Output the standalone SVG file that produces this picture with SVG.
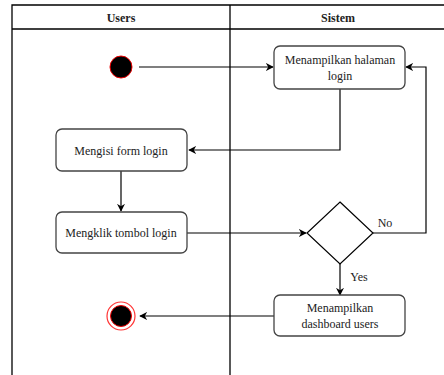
<svg xmlns="http://www.w3.org/2000/svg" width="444" height="375" viewBox="0 0 444 375">
<style>
text{font-family:'Liberation Serif','DejaVu Serif',serif;font-size:12px;fill:#222;text-anchor:middle}
.hdr{font-weight:bold}
.box{fill:#fff;stroke:#444;stroke-width:1.3}
.ln{fill:none;stroke:#000;stroke-width:1.3}
.edge{fill:none;stroke:#000;stroke-width:1.2}
</style>
<defs>
<marker id="ah" viewBox="0 0 10 10" refX="9" refY="5" markerWidth="8" markerHeight="8" markerUnits="userSpaceOnUse" orient="auto">
<path d="M0,0 L10,5 L0,10 L3,5 z" fill="#000"/>
</marker>
</defs>
<rect width="444" height="375" fill="#fff"/>
<g id="swimlanes">
<path class="ln" d="M12,375 V5 H444 M12,29 H444 M230,5 V375"/>
<text class="hdr" x="121" y="22" font-family="Liberation Serif, serif">Users</text>
<text class="hdr" x="338" y="22" font-family="Liberation Serif, serif">Sistem</text>
</g>
<g id="connectors">
<path class="edge" d="M139,67 H273" marker-end="url(#ah)"/>
<path class="edge" d="M340,89 V150 H189" marker-end="url(#ah)"/>
<path class="edge" d="M121,171 V211" marker-end="url(#ah)"/>
<path class="edge" d="M187,233 H306" marker-end="url(#ah)"/>
<path class="edge" d="M373,233 H426 V67 H406" marker-end="url(#ah)"/>
<text x="385" y="227">No</text>
<path class="edge" d="M340,264 V295" marker-end="url(#ah)"/>
<text x="359" y="281">Yes</text>
<path class="edge" d="M274,316 H140" marker-end="url(#ah)"/>
</g>
<g id="start">
<circle cx="121" cy="67" r="11" fill="#000" stroke="#e00" stroke-width="1"/>
</g>
<g id="tampil-login">
<rect class="box" x="274" y="46" width="131" height="43" rx="6"/>
<text x="340" y="64">Menampilkan halaman</text>
<text x="340" y="80">login</text>
</g>
<g id="isi-form">
<rect class="box" x="56" y="129" width="131" height="42" rx="6"/>
<text x="121" y="155">Mengisi form login</text>
</g>
<g id="klik-tombol">
<rect class="box" x="56" y="212" width="131" height="41" rx="6"/>
<text x="121" y="237">Mengklik tombol login</text>
</g>
<g id="decision">
<path d="M340,202 L373,233 L340,264 L307,233 Z" fill="#fff" stroke="#000" stroke-width="1.2"/>
</g>
<g id="tampil-dashboard">
<rect class="box" x="274" y="295" width="131" height="41" rx="6"/>
<text x="340" y="312">Menampilkan</text>
<text x="340" y="328">dashboard users</text>
</g>
<g id="end">
<circle cx="121" cy="316" r="14" fill="#fff" stroke="#f33" stroke-width="1.2"/>
<circle cx="121" cy="316" r="10.5" fill="#000" stroke="#e00" stroke-width="1"/>
</g>
</svg>
